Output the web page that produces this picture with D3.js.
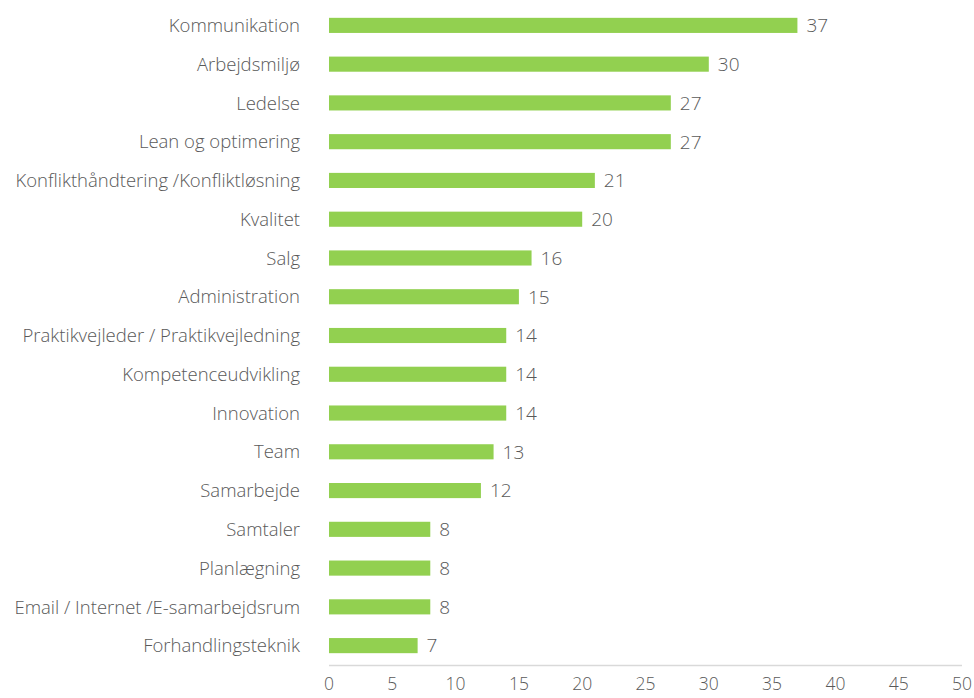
<!DOCTYPE html>
<html><head><meta charset="utf-8">
<script src="https://cdn.jsdelivr.net/npm/d3@7"></script>
<style>body{margin:0;background:#fff}svg{display:block}</style>
</head><body>
<script>
const categories = ["Kommunikation","Arbejdsmiljø","Ledelse","Lean og optimering","Konflikthåndtering /Konfliktløsning","Kvalitet","Salg","Administration","Praktikvejleder / Praktikvejledning","Kompetenceudvikling","Innovation","Team","Samarbejde","Samtaler","Planlægning","Email / Internet /E-samarbejdsrum","Forhandlingsteknik"];
const values = [37,30,27,27,21,20,16,15,14,14,14,13,12,8,8,8,7];
const tickValues = [0,5,10,15,20,25,30,35,40,45,50];

const W=974,H=698;
const svg=d3.select("body").append("svg").attr("width",W).attr("height",H);
const x=d3.scaleLinear().domain([0,50]).range([329,962]);
const y=d3.scaleBand().domain(categories).range([6,665]).paddingInner(0.61).paddingOuter(0.305);
const font="'Open Sans', sans-serif";
const grey="#595959";

svg.append("line").attr("x1",x(0)).attr("x2",x(50)).attr("y1",665.5).attr("y2",665.5).attr("stroke","#d9d9d9").attr("stroke-width",1.3);

svg.selectAll("rect.bar").data(categories).enter().append("rect")
 .attr("x",x(0)).attr("y",d=>y(d)).attr("width",(d,i)=>x(values[i])-x(0)).attr("height",y.bandwidth())
 .attr("fill","#92D050");

svg.selectAll("text.val").data(categories).enter().append("text")
 .attr("x",(d,i)=>x(values[i])+9).attr("y",d=>y(d)+y.bandwidth()/2).attr("dy","0.36em")
 .attr("font-family",font).attr("font-size",19).attr("font-weight",300).attr("fill",grey).text((d,i)=>values[i]);

svg.selectAll("text.cat").data(categories).enter().append("text")
 .attr("x",300).attr("y",d=>y(d)+y.bandwidth()/2).attr("dy","0.36em").attr("text-anchor","end")
 .attr("font-family",font).attr("font-size",18.5).attr("font-weight",300).attr("fill",grey).text(d=>d);

svg.selectAll("text.tick").data(tickValues).enter().append("text")
 .attr("x",d=>x(d)).attr("y",684).attr("dy","0.36em").attr("text-anchor","middle")
 .attr("font-family",font).attr("font-size",17.5).attr("font-weight",300).attr("fill",grey).text(d=>d);
</script>
</body></html>
